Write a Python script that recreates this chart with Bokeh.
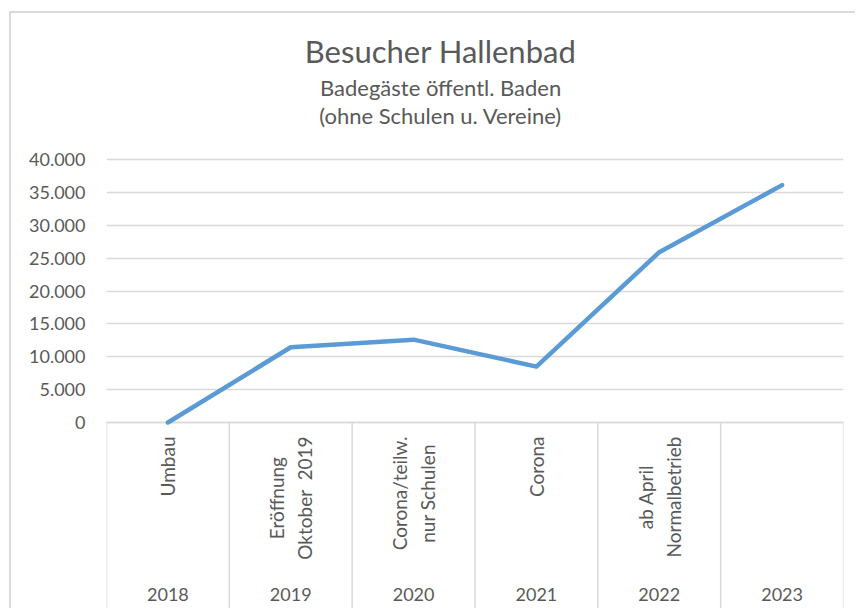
import math
from bokeh.plotting import figure
from bokeh.models import FactorRange, Range1d, LinearAxis, FixedTicker, Grid
from bokeh.core.properties import value
from bokeh.embed import file_html
from bokeh.resources import INLINE

# ---- data ----
years = ["2018", "2019", "2020", "2021", "2022", "2023"]
notes = ["Umbau", "Eröffnung\nOktober\u00a0\u00a02019", "Corona/teilw.\nnur Schulen",
         "Corona", "ab April\nNormalbetrieb", ""]
visitors = [0, 11450, 12600, 8500, 25900, 36100]
y_ticks = [0, 5000, 10000, 15000, 20000, 25000, 30000, 35000, 40000]
y_tick_labels = ["0", "5.000", "10.000", "15.000", "20.000", "25.000",
                 "30.000", "35.000", "40.000"]
title_lines = ["Besucher Hallenbad", "Badegäste öffentl. Baden",
               "(ohne Schulen u. Vereine)"]

# ---- layout (pixels) ----
W, H = 846, 597
FRAME_L, FRAME_R = 95, 14
PX_PER_UNIT = 6.575 / 1000.0
Y0_PX = 409           # pixel row of value 0 from top of canvas


def px_to_y(py):
    return (Y0_PX - py) / PX_PER_UNIT


y_top = px_to_y(0)
y_bot = px_to_y(H)

FONT = "Lato"
GRAY = "#595959"
LINE_GRAY = "#D9D9D9"

p = figure(width=W, height=H, x_range=FactorRange(*years, range_padding=0, factor_padding=0),
           y_range=Range1d(y_bot, y_top), x_axis_type=None, y_axis_type=None,
           toolbar_location=None, output_backend="svg", title=None,
           min_border_left=FRAME_L, min_border_right=FRAME_R,
           min_border_top=0, min_border_bottom=0)
p.outline_line_color = None
p.background_fill_color = "white"
p.border_fill_color = "white"
p.styles = {"border-left": "2px solid #D9D9D9", "border-top": "2px solid #D9D9D9",
            "margin-top": "11px", "margin-left": "9px"}

yaxis = LinearAxis(ticker=FixedTicker(ticks=y_ticks),
                   major_label_overrides={t: l for t, l in zip(y_ticks, y_tick_labels)})
yaxis.axis_line_color = None
yaxis.major_tick_out = 0
yaxis.major_tick_in = 0
yaxis.minor_tick_out = 0
yaxis.minor_tick_in = 0
yaxis.major_label_standoff = 21
yaxis.major_label_text_font = FONT
yaxis.major_label_text_font_size = "18px"
yaxis.major_label_text_color = GRAY
p.add_layout(yaxis, "left")

grid = Grid(dimension=1, ticker=yaxis.ticker, grid_line_color=LINE_GRAY, grid_line_width=1.5)
p.add_layout(grid)

# category box: top line and separators
n = len(years)
bounds = list(range(n + 1))
p.segment(x0=[0], y0=[0], x1=[n], y1=[0], line_color=LINE_GRAY, line_width=1.5)
p.segment(x0=bounds, y0=[0] * len(bounds), x1=bounds, y1=[y_bot] * len(bounds),
          line_color=LINE_GRAY, line_width=1.5)

# data line
p.line(x=years, y=visitors, line_color="#5B9BD5", line_width=4.5,
       line_join="round", line_cap="round")

# rotated notes
p.text(x=years, y=[px_to_y(Y0_PX + 14)] * n, text=notes, angle=math.pi / 2,
       anchor="center_right", text_align="center", text_line_height=1.2,
       text_font=value(FONT), text_font_size="19px", text_color=GRAY)

# year labels
p.text(x=years, y=[px_to_y(581)] * n, text=years, text_align="center",
       text_baseline="middle", text_font=value(FONT), text_font_size="18px",
       text_color=GRAY)

# titles
tx = 2.72
p.text(x=[tx], y=[px_to_y(37)], text=[title_lines[0]], text_align="center",
       text_baseline="middle", text_font=value(FONT), text_font_size="31px",
       text_color=GRAY)
p.text(x=[tx, tx], y=[px_to_y(74), px_to_y(102)], text=title_lines[1:],
       text_align="center", text_baseline="middle", text_font=value(FONT),
       text_font_size="22px", text_color=GRAY)

open("out.html", "w").write(file_html(p, INLINE))
